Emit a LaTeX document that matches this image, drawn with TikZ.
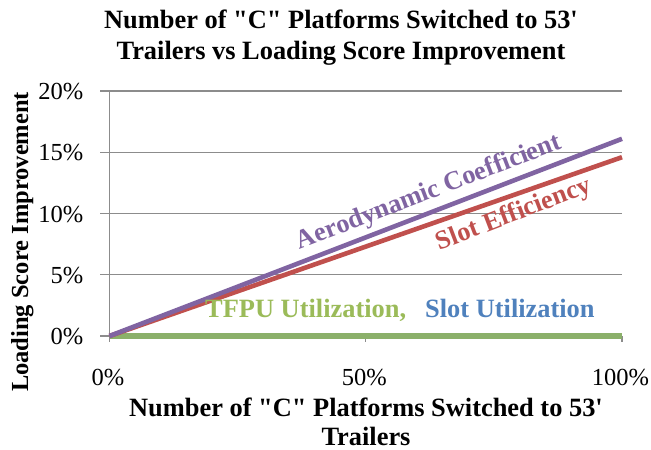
\documentclass[tikz,border=0pt]{standalone}
\usepackage{fontspec}
\setmainfont{Liberation Serif}[Ligatures=TeXOff]
\definecolor{gridgray}{HTML}{8C8C8C}
\definecolor{serblue}{HTML}{4F81BD}
\definecolor{serred}{HTML}{C0504D}
\definecolor{sergreen}{HTML}{9BBB59}
\definecolor{sergreenline}{HTML}{8BB06A}
\definecolor{serpurple}{HTML}{8064A2}
\tikzset{
  gridline/.style={draw=gridgray, line width=1.4pt},
  series/.style={line width=4.6pt},
  titletext/.style={font=\fontsize{26.4}{31}\selectfont\bfseries, inner sep=0pt, anchor=base},
  ticktext/.style={font=\fontsize{24.5}{28}\selectfont, inner sep=0pt},
  labeltext/.style={font=\fontsize{26.4}{31}\selectfont\bfseries, inner sep=0pt},
}
\begin{document}
\begin{tikzpicture}[x=1pt,y=-1pt]
\useasboundingbox[fill=white] (0,0) rectangle (651,450);
% chart title
\node[titletext] (t1) at (341,28.3) {Number of "C" Platforms Switched to 53'};
\node[titletext] (t2) at (341,59.3) {Trailers vs Loading Score Improvement};
% gridlines and y ticks
\foreach \v/\lab in {0/0\%,5/5\%,10/10\%,15/15\%,20/20\%}{
  \pgfmathsetmacro{\yy}{336-12.25*\v}
  \draw[gridline] (100,\yy) -- (622,\yy);
  \node[ticktext, anchor=base east] (yl\v) at (83.5,\yy+8.7) {\lab};
}
% axes
\draw[gridline] (109.5,91) -- (109.5,342);
\foreach \p/\lab in {0/0\%,50/50\%,100/100\%}{
  \pgfmathsetmacro{\xx}{109.5+5.125*\p}
  \draw[gridline] (\xx,336) -- (\xx,342);
  \node[ticktext, anchor=base] (xl\p) at (\xx-1.5,385) {\lab};
}
% axis titles
\node[titletext] (xt1) at (366,416.5) {Number of "C" Platforms Switched to 53'};
\node[titletext] (xt2) at (366,445.5) {Trailers};
\node[font=\fontsize{24.5}{28}\selectfont\bfseries, inner sep=0pt, anchor=base, rotate=90] (yt) at (28,242) {Loading Score Improvement};
% series
\coordinate (o) at (109.5,336);
\coordinate (eb) at (622,336);
\coordinate (eg) at (622,336);
\coordinate (er) at (622,157.2);
\coordinate (ep) at (622,138.8);
\draw[series, serblue] (o) -- (eb);
\draw[series, sergreenline, line width=5.6pt] (o) -- (eg);
\draw[series, serred] (o) -- (er);
\draw[series, serpurple] (o) -- (ep);
% series labels
\node[labeltext, text=serpurple, rotate=21] (lp) at (429,193) {Aerodynamic Coefficient};
\node[labeltext, text=serred, rotate=21] (lr) at (514,215) {Slot Efficiency};
\node[labeltext, text=sergreen, anchor=base west] (lg) at (205,317.3) {TFPU Utilization,};
\node[labeltext, text=serblue, anchor=base west] (lb) at (425,317.3) {Slot Utilization};
\end{tikzpicture}
\end{document}
